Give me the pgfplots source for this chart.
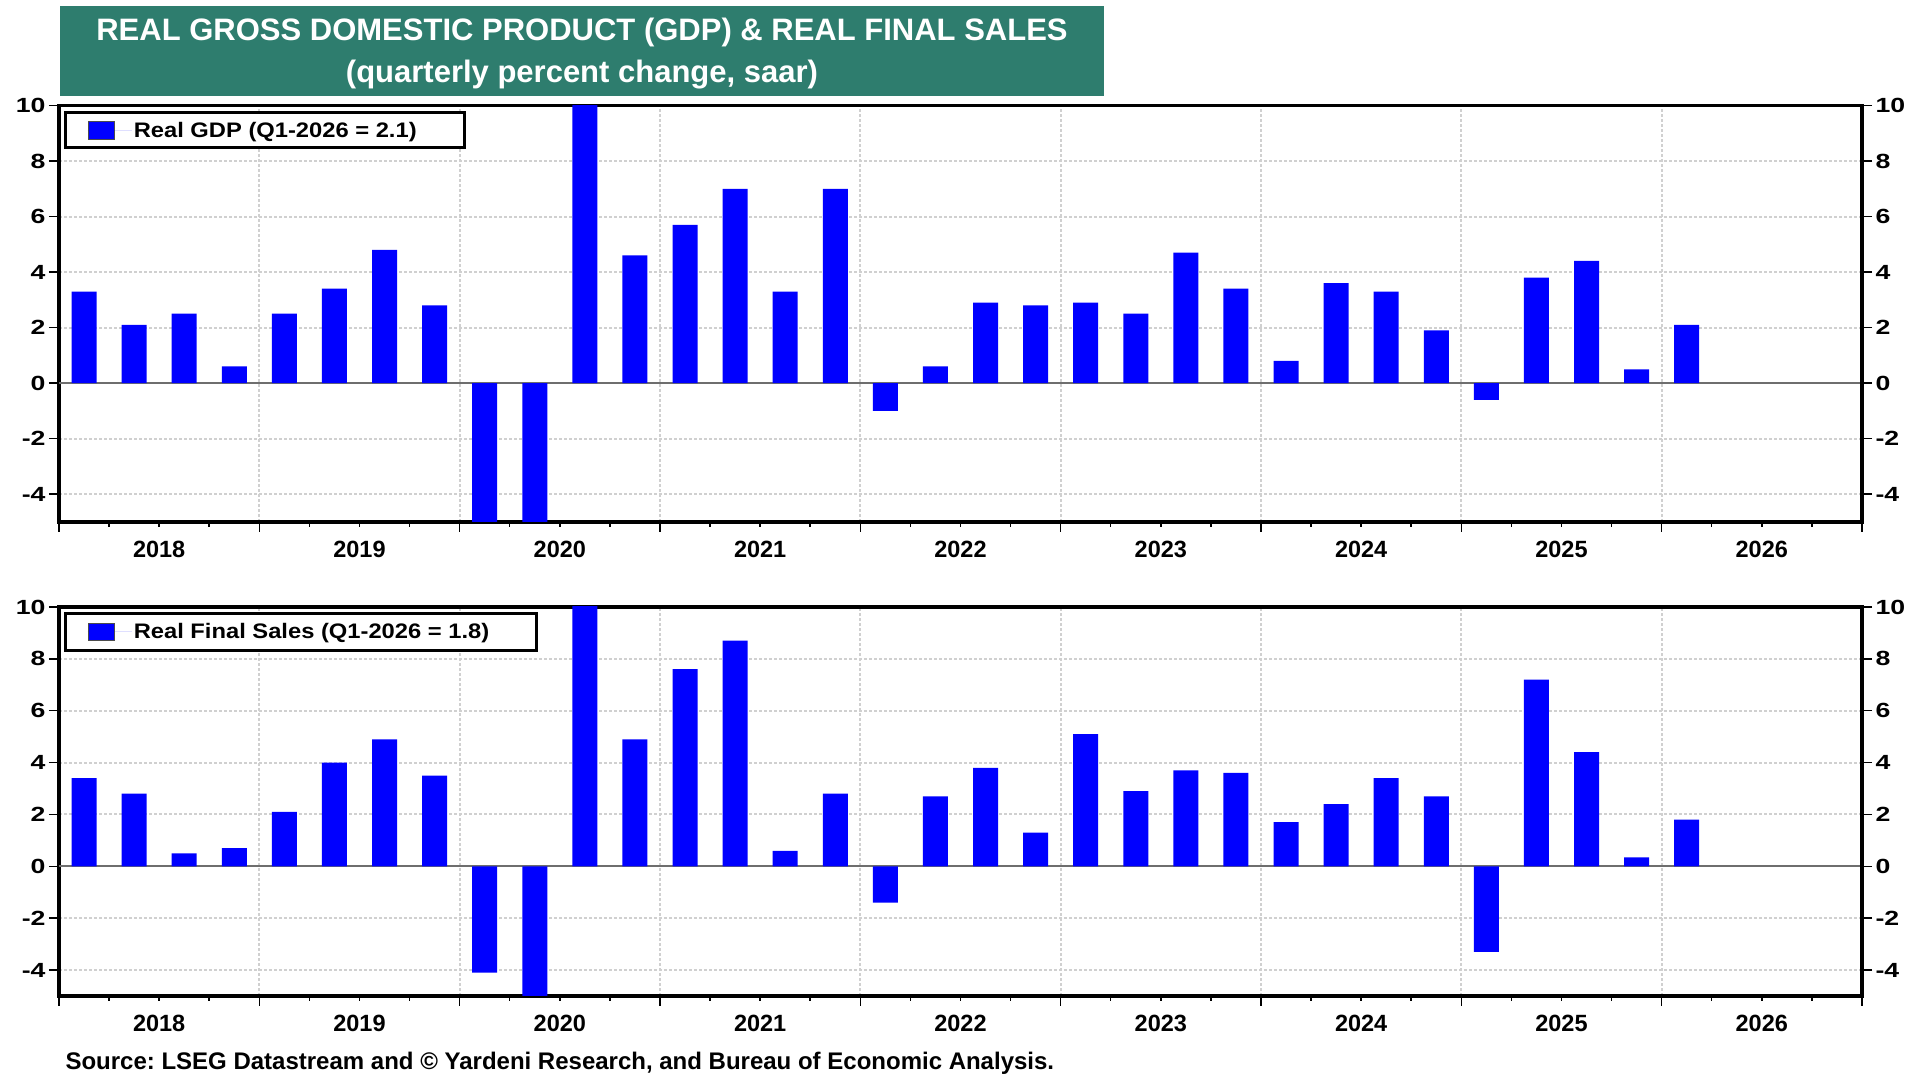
\documentclass[border=0pt]{standalone}
\usepackage{fontspec}
\setmainfont{Liberation Sans}
\newfontfamily\tickfont[FakeStretch=1.3]{Liberation Sans}
\newfontfamily\legfont[FakeStretch=1.13]{Liberation Sans}
\usepackage{pgfplots}
\pgfplotsset{compat=1.18}
\definecolor{titleteal}{RGB}{46,125,110}
\definecolor{gridgray}{RGB}{208,208,208}
\definecolor{zerogray}{RGB}{110,110,110}
\definecolor{barblue}{RGB}{0,0,255}
\frenchspacing

\pgfplotsset{
  panel/.style={
    scale only axis, width=1803pt,
    xmin=0, xmax=36, ymin=-5, ymax=10,
    axis line style={line width=3.5pt, black},
    xtick={0,4,...,36}, xticklabels={}, minor x tick num=3,
    extra x ticks={2,6,...,34},
    extra x tick labels={2018,2019,2020,2021,2022,2023,2024,2025,2026},
    extra x tick style={major tick length=0pt, grid=none,
      tick label style={anchor=center, yshift=-27pt}},
    ytick={-4,-2,...,10}, yticklabels={-4,-2,0,2,4,6,8,10},
    xtick pos=bottom, ytick pos=left,
    tick align=outside, major tick length=10pt, minor tick length=5pt,
    tick style={line width=1.5pt, black},
    xmajorgrids, ymajorgrids,
    major grid style={gridgray, line width=2pt, dash pattern=on 2.5pt off 2.5pt},
    yticklabel style={font=\tickfont\fontsize{20.5}{24}\selectfont\bfseries},
    xticklabel style={font=\fontsize{23.5}{27}\selectfont\bfseries},
    legend style={at={(0,1)}, anchor=north west, draw=black, line width=3pt,
      inner xsep=22.5pt,
      font=\legfont\fontsize{21}{25}\selectfont\bfseries},
    legend cell align=left,
    legend image code/.code={\fill[barblue, draw=black!70, line width=0.6pt] (0pt,-8.5pt) rectangle (26pt,9pt); \path (0pt,0pt) -- (44pt,0pt);},
  },
  rightlabels/.style={
    scale only axis, width=1803pt,
    xmin=0, xmax=36, ymin=-5, ymax=10,
    axis x line=none, axis y line*=right,
    y axis line style={line width=3.5pt, black},
    ytick={-4,-2,...,10}, yticklabels={-4,-2,0,2,4,6,8,10},
    tick align=outside, major tick length=10pt,
    tick style={line width=1.5pt, black},
    yticklabel style={font=\tickfont\fontsize{20.5}{24}\selectfont\bfseries},
  },
  bars/.style={ybar, bar width=25pt, fill=barblue, draw=none},
  zeroline/.style={zerogray, line width=2pt, forget plot},
}

\begin{document}
\begin{tikzpicture}[x=1pt,y=1pt]
\useasboundingbox (0,0) rectangle (1920,1080);
\fill[titleteal] (60,984) rectangle (1104,1074);
\node[anchor=base, text=white, font=\fontsize{31}{36}\selectfont\bfseries] at (582,1039.4) {REAL GROSS DOMESTIC PRODUCT (GDP) \& REAL FINAL SALES};
\node[anchor=base, text=white, font=\fontsize{31}{36}\selectfont\bfseries] at (582,997.5) {(quarterly percent change, saar)};

% ---------- top panel: Real GDP ----------
\begin{axis}[panel, at={(59pt,558pt)}, anchor=south west, height=416.5pt,
  legend style={xshift=4.5pt, yshift=-6pt, inner ysep=7pt}]
\addplot[zeroline] coordinates {(0,0) (36,0)};
\addplot[bars] coordinates {
(0.5,3.3) (1.5,2.1) (2.5,2.5) (3.5,0.6)
(4.5,2.5) (5.5,3.4) (6.5,4.8) (7.5,2.8)
(8.5,-5.5) (9.5,-28.0) (10.5,34.8) (11.5,4.6)
(12.5,5.7) (13.5,7.0) (14.5,3.3) (15.5,7.0)
(16.5,-1.0) (17.5,0.6) (18.5,2.9) (19.5,2.8)
(20.5,2.9) (21.5,2.5) (22.5,4.7) (23.5,3.4)
(24.5,0.8) (25.5,3.6) (26.5,3.3) (27.5,1.9)
(28.5,-0.6) (29.5,3.8) (30.5,4.4) (31.5,0.5)
(32.5,2.1)
};
\addlegendentry{Real GDP (Q1-2026 = 2.1)\hspace*{23pt}}
\end{axis}
\begin{axis}[rightlabels, at={(59pt,558pt)}, anchor=south west, height=416.5pt]
\end{axis}

% ---------- bottom panel: Real Final Sales ----------
\begin{axis}[panel, at={(59pt,84pt)}, anchor=south west, height=389pt,
  legend style={xshift=4.5pt, yshift=-5pt, inner ysep=8pt}]
\addplot[zeroline] coordinates {(0,0) (36,0)};
\addplot[bars] coordinates {
(0.5,3.4) (1.5,2.8) (2.5,0.5) (3.5,0.7)
(4.5,2.1) (5.5,4.0) (6.5,4.9) (7.5,3.5)
(8.5,-4.1) (9.5,-28.0) (10.5,34.0) (11.5,4.9)
(12.5,7.6) (13.5,8.7) (14.5,0.6) (15.5,2.8)
(16.5,-1.4) (17.5,2.7) (18.5,3.8) (19.5,1.3)
(20.5,5.1) (21.5,2.9) (22.5,3.7) (23.5,3.6)
(24.5,1.7) (25.5,2.4) (26.5,3.4) (27.5,2.7)
(28.5,-3.3) (29.5,7.2) (30.5,4.4) (31.5,0.35)
(32.5,1.8)
};
\addlegendentry{Real Final Sales (Q1-2026 = 1.8)\hspace*{23pt}}
\end{axis}
\begin{axis}[rightlabels, at={(59pt,84pt)}, anchor=south west, height=389pt]
\end{axis}

\node[anchor=base west, font=\fontsize{24}{28}\selectfont\bfseries] at (62,11) {Source: LSEG Datastream and © Yardeni Research, and Bureau of Economic Analysis.};
\end{tikzpicture}
\end{document}
